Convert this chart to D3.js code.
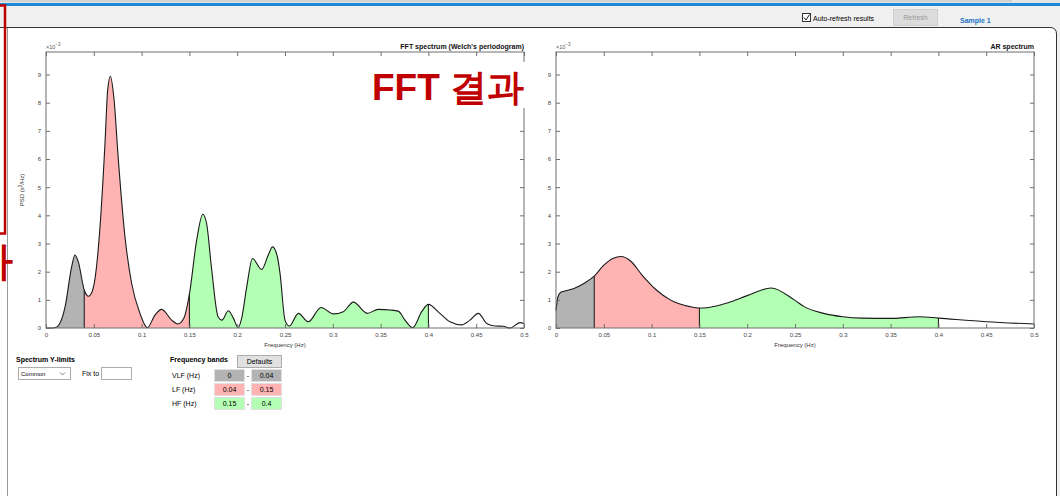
<!DOCTYPE html>
<html><head><meta charset="utf-8">
<script src="https://cdn.jsdelivr.net/npm/d3@7"></script>
<style>
body{margin:0;background:#f0f0f0;overflow:hidden;}
text{font-family:"Liberation Sans",Arial,Helvetica,sans-serif;}
</style>
</head><body><svg id="c" width="1060" height="496"></svg>
<script>
// ---- data ----
const fftFreq = [0,0.005,0.010,0.015,0.020,0.0268,0.0303,0.0338,0.040,0.0443,0.047,0.0513,0.0565,0.0617,0.0645,0.0673,0.0711,0.0757,0.0826,0.0896,0.0983,0.106,0.114,0.121,0.1315,0.138,0.1444,0.150,0.1576,0.164,0.168,0.173,0.180,0.184,0.1907,0.196,0.201,0.2047,0.21,0.216,0.2256,0.2326,0.237,0.242,0.2448,0.25,0.2545,0.264,0.2744,0.2877,0.3005,0.311,0.3215,0.336,0.3476,0.36,0.3685,0.3755,0.3836,0.393,0.400,0.412,0.4226,0.4348,0.4435,0.4522,0.461,0.4697,0.4784,0.4854,0.4958,0.5];
const fftPsd  = [0,0,0.02,0.2,0.76,2.17,2.59,2.35,1.35,1.13,1.2,1.76,3.59,6.55,8.44,8.94,8.14,5.96,3.24,1.58,0.52,0.01,0.46,0.66,0.28,0.14,0.36,1.2,3.12,4.04,3.71,2.17,0.40,0.28,0.61,0.35,0.01,0.35,1.47,2.47,2.08,2.6,2.88,2.53,1.94,0.28,0.07,0.52,0.22,0.73,0.50,0.58,0.92,0.52,0.66,0.64,0.60,0.28,0.01,0.58,0.84,0.52,0.22,0.11,0.28,0.52,0.16,0.07,0.06,0.0,0.19,0.16];
const arFreq = [0,0.002,0.005,0.01,0.02,0.03,0.04,0.05,0.06,0.068,0.078,0.09,0.105,0.12,0.14,0.15,0.16,0.18,0.20,0.225,0.25,0.26,0.28,0.30,0.32,0.35,0.38,0.40,0.45,0.5];
const arPsd  = [0.62,1.1,1.27,1.32,1.42,1.6,1.84,2.23,2.48,2.54,2.38,1.88,1.35,0.99,0.76,0.71,0.73,0.9,1.15,1.42,0.98,0.75,0.52,0.40,0.35,0.34,0.40,0.35,0.22,0.14];
const bandNames = ["VLF (Hz)","LF (Hz)","HF (Hz)"];
const bandLow  = [0,0.04,0.15];
const bandHigh = [0.04,0.15,0.4];
const bandLowLabels  = ["0","0.04","0.15"];
const bandHighLabels = ["0.04","0.15","0.4"];
const bandColors = ["#b3b3b3","#ffb3b3","#b3ffb3"];
const xTicks = [0,0.05,0.1,0.15,0.2,0.25,0.3,0.35,0.4,0.45,0.5];
const xTickLabels = ["0","0.05","0.1","0.15","0.2","0.25","0.3","0.35","0.4","0.45","0.5"];
const yTicks = [0,1,2,3,4,5,6,7,8,9];
const yTickLabels = ["0","1","2","3","4","5","6","7","8","9"];
const yMax = 9.8;

const svg = d3.select("#c");
const defs = svg.append("defs");

// ---- window chrome ----
svg.append("rect").attr("x",0).attr("y",0).attr("width",1060).attr("height",496).attr("fill","#f0f0f0");
svg.append("rect").attr("x",0).attr("y",0).attr("width",1060).attr("height",3).attr("fill","#e6e6e6");
svg.append("line").attr("x1",0).attr("x2",1012).attr("y1",1).attr("y2",1).attr("stroke","#bdbdbd");
svg.append("rect").attr("x",0).attr("y",3).attr("width",1060).attr("height",3).attr("fill","#1e88d8");
// white panel
svg.append("path").attr("d","M0,27 L1050,27 Q1056,27 1056,33 L1056,496 L0,496 Z").attr("fill","#fff");
svg.append("path").attr("d","M0,27.5 L1050,27.5 Q1056.5,27.5 1056.5,34 L1056.5,496").attr("fill","none").attr("stroke","#333").attr("stroke-width",1);
svg.append("line").attr("x1",7.5).attr("x2",7.5).attr("y1",28).attr("y2",496).attr("stroke","#9a9a9a");

// top controls
svg.append("rect").attr("x",802.5).attr("y",13.5).attr("width",8).attr("height",8).attr("fill","#fff").attr("stroke","#333");
svg.append("path").attr("d","M804,17.5 L806,20 L809.5,14.5").attr("fill","none").attr("stroke","#222").attr("stroke-width",1);
svg.append("text").attr("x",813).attr("y",20.5).attr("font-size",7).attr("fill","#000").text("Auto-refresh results");
svg.append("rect").attr("x",893.5).attr("y",9.5).attr("width",44).attr("height",16).attr("fill","#dcdcdc").attr("stroke","#cfcfcf");
svg.append("text").attr("x",915.5).attr("y",20).attr("text-anchor","middle").attr("font-size",7).attr("fill","#9a9a9a").text("Refresh");
svg.append("text").attr("x",960).attr("y",22.5).attr("font-size",7).attr("font-weight","bold").attr("fill","#1a73c8").text("Sample 1");

// ---- spectrum drawing ----
function drawSpectrum(id, left, right, top, bottom, freq, psd, title) {
  const data = freq.map((f,i)=>({f:f, v:psd[i]}));
  const x = d3.scaleLinear().domain([0,0.5]).range([left,right]);
  const y = d3.scaleLinear().domain([0,yMax]).range([bottom,top]);
  const g = svg.append("g");
  const area = d3.area().x(d=>x(d.f)).y0(y(0)).y1(d=>y(d.v)).curve(d3.curveMonotoneX);
  const line = d3.line().x(d=>x(d.f)).y(d=>y(d.v)).curve(d3.curveMonotoneX);
  bandLow.forEach((lo,i)=>{
    const cid = id+"clip"+i;
    defs.append("clipPath").attr("id",cid).append("rect")
      .attr("x",x(lo)).attr("y",top).attr("width",x(bandHigh[i])-x(lo)).attr("height",bottom-top);
    g.append("path").datum(data).attr("d",area).attr("fill",bandColors[i]).attr("clip-path","url(#"+cid+")");
  });
  // band boundary lines
  const edges = [0.04,0.15,0.4];
  edges.forEach(e=>{
    const d = data.find(p=>Math.abs(p.f-e)<1e-9);
    if (d) g.append("line").attr("x1",x(e)).attr("x2",x(e)).attr("y1",y(0)).attr("y2",y(d.v))
      .attr("stroke","#111").attr("stroke-width",1);
  });
  g.append("path").datum(data).attr("d",line).attr("fill","none").attr("stroke","#1a1a1a").attr("stroke-width",1.1);

  // box
  g.append("rect").attr("x",left).attr("y",top).attr("width",right-left).attr("height",bottom-top)
    .attr("fill","none").attr("stroke","#6e6e6e").attr("stroke-width",1);

  const axCol = "#6e6e6e";
  const xb = g.append("g").attr("transform","translate(0,"+bottom+")")
    .call(d3.axisBottom(x).tickValues(xTicks).tickFormat((d,i)=>xTickLabels[i]).tickSizeInner(-4).tickSizeOuter(0).tickPadding(5));
  const xt = g.append("g").attr("transform","translate(0,"+top+")")
    .call(d3.axisTop(x).tickValues(xTicks).tickFormat("").tickSizeInner(-4).tickSizeOuter(0));
  const yl = g.append("g").attr("transform","translate("+left+",0)")
    .call(d3.axisLeft(y).tickValues(yTicks).tickFormat((d,i)=>yTickLabels[i]).tickSizeInner(-4).tickSizeOuter(0).tickPadding(5));
  const yr = g.append("g").attr("transform","translate("+right+",0)")
    .call(d3.axisRight(y).tickValues(yTicks).tickFormat("").tickSizeInner(-4).tickSizeOuter(0));
  [xb,xt,yl,yr].forEach(a=>{
    a.select(".domain").remove();
    a.selectAll("line").attr("stroke",axCol);
    a.selectAll("text").attr("font-size",6).attr("fill","#444").attr("font-family","Liberation Sans, Arial, sans-serif");
  });
  g.append("text").attr("x",left).attr("y",top-3.5).attr("font-size",5.5).attr("fill","#555")
    .html('×10<tspan dy="-2.5" font-size="4.5">−3</tspan>');
  g.append("text").attr("x",right).attr("y",top-3).attr("text-anchor","end").attr("font-size",7)
    .attr("font-weight","bold").attr("fill","#111").text(title);
  g.append("text").attr("x",(left+right)/2).attr("y",bottom+18.5).attr("text-anchor","middle")
    .attr("font-size",6).attr("fill","#333").text("Frequency (Hz)");
  return {x,y};
}

drawSpectrum("fft",46,524,52,328,fftFreq,fftPsd,"FFT spectrum (Welch's periodogram)");
drawSpectrum("ar",556,1034,52,328,arFreq,arPsd,"AR spectrum");

// y label
svg.append("text").attr("transform","translate(24,190) rotate(-90)").attr("text-anchor","middle")
  .attr("font-size",6).attr("fill","#333").html('PSD (s<tspan dy="-2" font-size="4.5">2</tspan><tspan dy="2">/Hz)</tspan>');

// annotation
svg.append("rect").attr("x",366).attr("y",62).attr("width",162).attr("height",46).attr("fill","#fff");
svg.append("text").attr("x",372).attr("y",100).attr("font-size",37).attr("font-weight","bold")
  .attr("fill","#c00000").attr("font-family","'Noto Sans CJK KR','Liberation Sans',sans-serif").text("FFT 결과");
svg.append("rect").attr("x",-10).attr("y",5.5).attr("width",15).attr("height",228).attr("fill","none")
  .attr("stroke","#c00000").attr("stroke-width",2.5);
svg.append("text").attr("x",13).attr("y",275).attr("text-anchor","end").attr("font-size",40).attr("font-weight","bold")
  .attr("fill","#c00000").attr("font-family","'Noto Sans CJK KR',sans-serif").text("하");

// ---- bottom controls ----
svg.append("text").attr("x",16).attr("y",362).attr("font-size",7).attr("font-weight","bold").attr("fill","#000").text("Spectrum Y-limits");
svg.append("rect").attr("x",18.5).attr("y",367.5).attr("width",52).attr("height",12).attr("fill","#fff").attr("stroke","#acacac");
svg.append("text").attr("x",21).attr("y",375.5).attr("font-size",6).attr("fill","#000").text("Common");
svg.append("path").attr("d","M60,372.5 L62.5,375 L65,372.5").attr("fill","none").attr("stroke","#666").attr("stroke-width",0.8);
svg.append("text").attr("x",82).attr("y",376).attr("font-size",7).attr("fill","#000").text("Fix to");
svg.append("rect").attr("x",101.5).attr("y",367.5).attr("width",30).attr("height",12).attr("fill","#fff").attr("stroke","#acacac");

svg.append("text").attr("x",170).attr("y",362).attr("font-size",7).attr("font-weight","bold").attr("fill","#000").text("Frequency bands");
svg.append("rect").attr("x",237.5).attr("y",355.5).attr("width",44).attr("height",12).attr("fill","#e1e1e1").attr("stroke","#adadad");
svg.append("text").attr("x",259.5).attr("y",364).attr("text-anchor","middle").attr("font-size",7).attr("fill","#000").text("Defaults");
bandNames.forEach((n,i)=>{
  const yy = 369 + i*14;
  svg.append("text").attr("x",172).attr("y",yy+8.5).attr("font-size",7).attr("fill","#000").text(n);
  svg.append("rect").attr("x",214.5).attr("y",yy+0.5).attr("width",30).attr("height",12).attr("fill",bandColors[i]).attr("stroke","#e0e0e0");
  svg.append("text").attr("x",229.5).attr("y",yy+8.5).attr("text-anchor","middle").attr("font-size",7).attr("fill","#000").text(bandLowLabels[i]);
  svg.append("text").attr("x",248).attr("y",yy+8.5).attr("text-anchor","middle").attr("font-size",7).attr("fill","#000").text("-");
  svg.append("rect").attr("x",251.5).attr("y",yy+0.5).attr("width",30).attr("height",12).attr("fill",bandColors[i]).attr("stroke","#e0e0e0");
  svg.append("text").attr("x",266.5).attr("y",yy+8.5).attr("text-anchor","middle").attr("font-size",7).attr("fill","#000").text(bandHighLabels[i]);
});
</script>
</body></html>
